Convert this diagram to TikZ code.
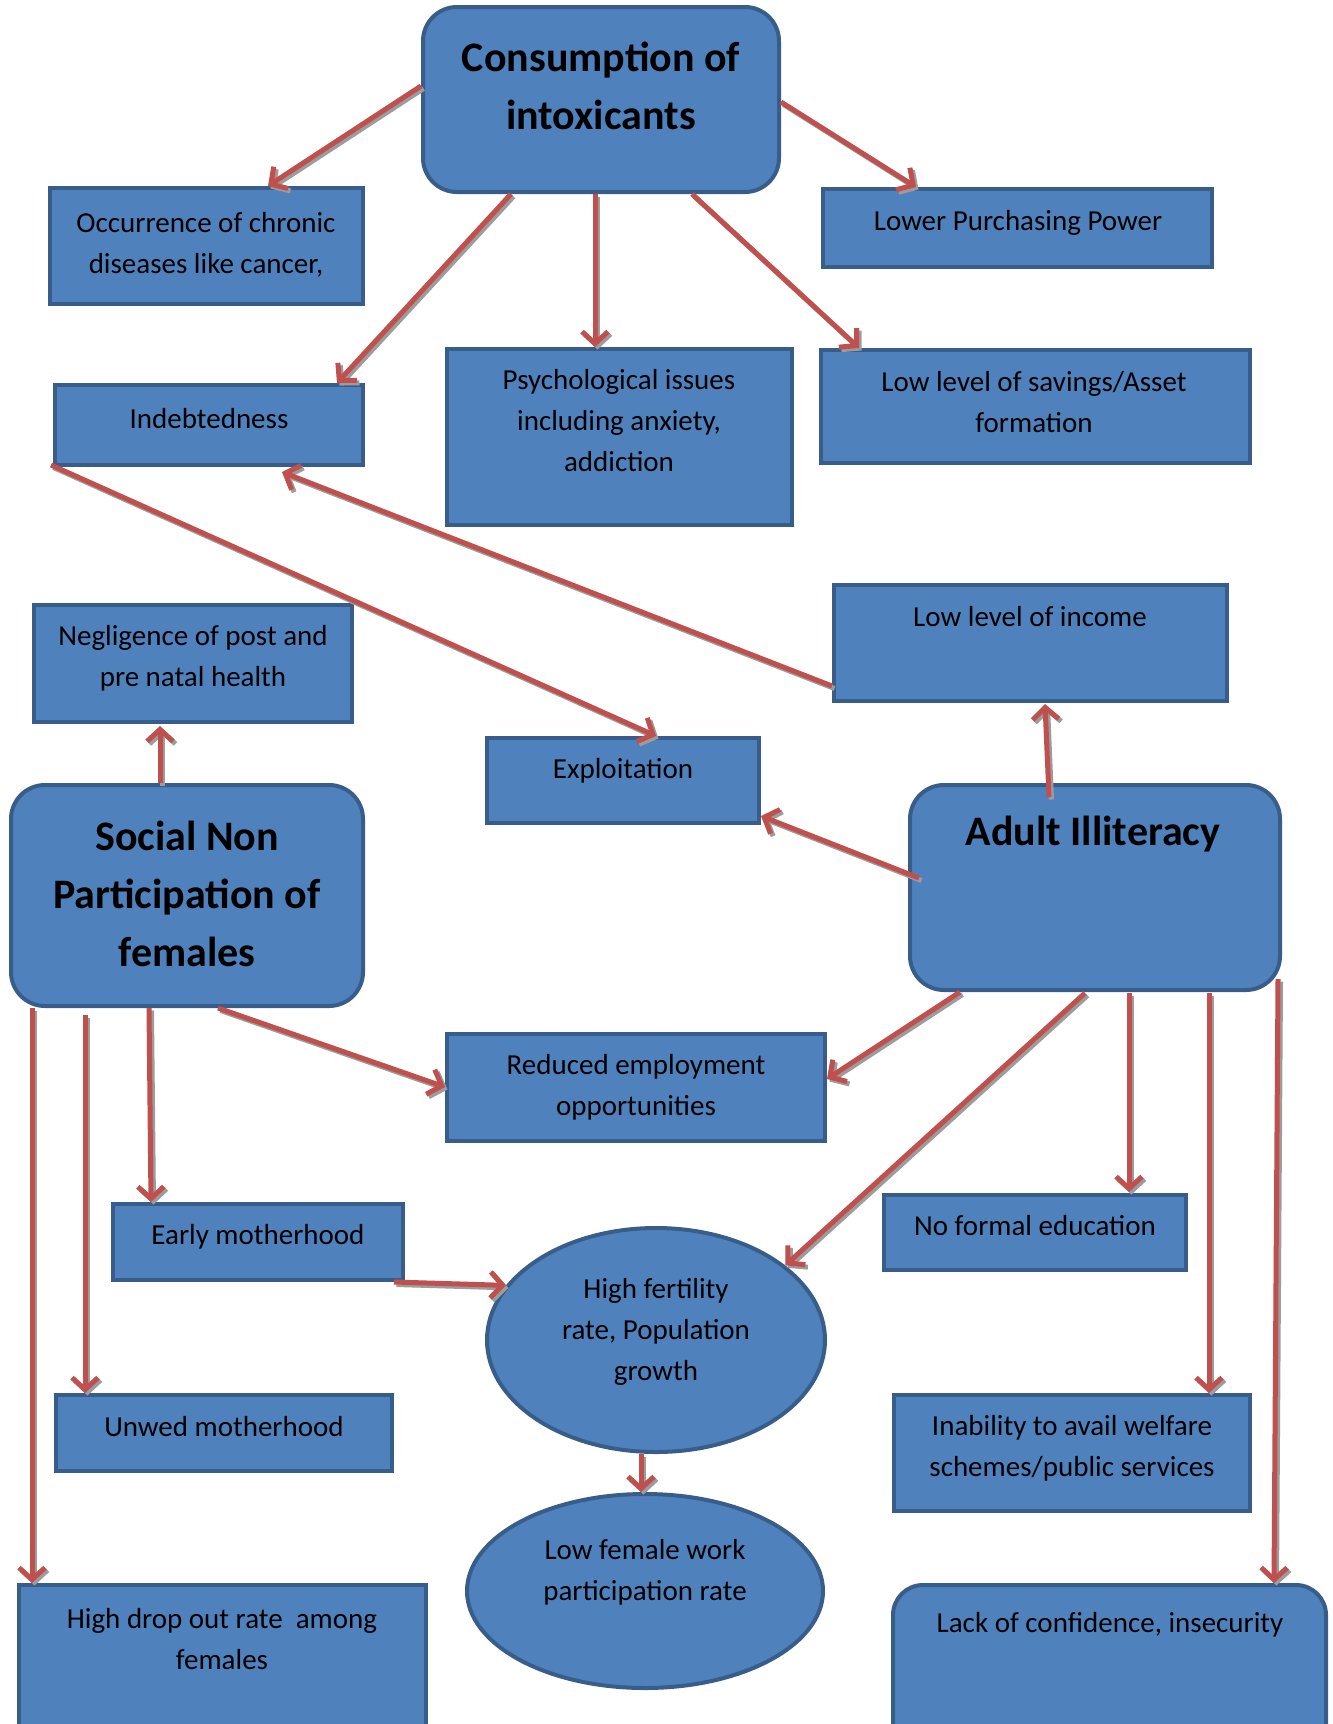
\documentclass[tikz,border=0pt]{standalone}
\usepackage{fontspec}
\setmainfont{Carlito}
\usetikzlibrary{arrows.meta,shapes.geometric,fit,calc}
\definecolor{boxfill}{HTML}{4F81BD}
\definecolor{boxline}{HTML}{385D8A}
\definecolor{arrowred}{HTML}{C0504D}
\definecolor{shadowgray}{HTML}{9C9C9C}
\newcommand{\allconnectors}{%
\draw[conn] ($(cons.north west)+(0,81)$) -- ($(occ.north west)+(220,0)$);
\draw[conn] ($(cons.north east)+(0,97)$) -- ($(lpp.north west)+(95,0)$);
\draw[conn] ($(cons.south west)+(90,0)$) -- ($(ind.north east)+(-28,0)$);
\draw[conn] ($(cons.south west)+(174,0)$) -- ($(psy.north west)+(150,0)$);
\draw[conn] ($(cons.south west)+(271,0)$) -- ($(sav.north west)+(40,0)$);
\draw[conn] ($(inc.south west)+(0,-17)$) -- ($(ind.south west)+(229,5)$);
\draw[conn] ($(ind.south west)+(-2,-2)$) -- ($(exp.north west)+(171,0)$);
\draw[conn] ($(soc.north west)+(151,0)$) -- ($(neg.south west)+(128,2)$);
\draw[conn] ($(adult.north west)+(141,14)$) -- ($(inc.south west)+(213,1)$);
\draw[conn] ($(adult.north west)+(11,95)$) -- ($(exp.south east)+(0,-9)$);
\draw[conn] ($(soc.south west)+(209,0)$) -- ($(red.north west)+(0,55)$);
\draw[conn] ($(adult.south west)+(52,0)$) -- ($(red.north east)+(0,47)$);
\draw[conn] ($(soc.south west)+(140,0)$) -- ($(early.north west)+(40,0)$);
\draw[conn] ($(soc.south west)+(76,7)$) -- ($(unwed.north west)+(31,0)$);
\draw[conn] ($(soc.south west)+(23,0)$) -- ($(drop.north west)+(15,0)$);
\draw[conn] ($(early.south east)+(-11,0)$) -- (fert.160);
\draw[conn] ($(adult.south west)+(177,1)$) -- (fert.30);
\draw[conn] ($(adult.south west)+(221,1)$) -- ($(nofe.north west)+(247,-1)$);
\draw[conn] ($(adult.south west)+(301,1)$) -- ($(inab.north west)+(317,0)$);
\draw[conn] ($(adult.south east)+(-4,-13)$) -- ($(lack.north west)+(383,0)$);
\draw[conn] ($(fert.south)+(-15,0)$) -- ($(lfw.north)+(-4,0)$);
}
\begin{document}
\begin{tikzpicture}[x=1pt,y=-1pt,
 rbox/.style={draw=boxline, fill=boxfill, line width=4pt, inner sep=0pt},
 rrbox/.style={rbox, rounded corners=34pt},
 ebox/.style={ellipse, draw=boxline, fill=boxfill, line width=4pt, inner sep=0pt},
 txt/.style={font=\fontsize{29}{41}\selectfont, align=center, inner sep=0pt},
 ttl/.style={font=\bfseries\fontsize{42}{58}\selectfont, align=center, inner sep=0pt},
 conn/.style={draw=arrowred, line width=5pt, -{Straight Barb[length=12pt,width=26pt]}}]
\useasboundingbox (0,0) rectangle (1333,1724);
\fill[white] (0,0) rectangle (1333,1724);
% boxes
\node[rrbox, fit={(423,7) (779,192)}] (cons) {};
\node[rbox, fit={(50,188) (363,304)}] (occ) {};
\node[rbox, fit={(823,189) (1212,267)}] (lpp) {};
\node[rbox, fit={(55,385) (363,465)}] (ind) {};
\node[rbox, fit={(447,349) (792,525)}] (psy) {};
\node[rbox, fit={(821,350) (1250,463)}] (sav) {};
\node[rbox, fit={(34,605) (352,722)}] (neg) {};
\node[rbox, fit={(834,585) (1227,701)}] (inc) {};
\node[rbox, fit={(487,738) (759,823)}] (exp) {};
\node[rrbox, fit={(11,785) (363,1006)}] (soc) {};
\node[rrbox, fit={(910,785) (1280,990)}] (adult) {};
\node[rbox, fit={(447,1034) (825,1141)}] (red) {};
\node[rbox, fit={(113,1204) (403,1280)}] (early) {};
\node[rbox, fit={(884,1195) (1186,1270)}] (nofe) {};
\node[ebox, minimum width=338pt, minimum height=224pt] (fert) at (656,1340) {};
\node[rbox, fit={(56,1395) (392,1471)}] (unwed) {};
\node[rbox, fit={(894,1395) (1250,1511)}] (inab) {};
\node[ebox, minimum width=356pt, minimum height=194pt] (lfw) at (645,1591) {};
\node[rbox, fit={(19,1585) (426,1760)}] (drop) {};
\node[rrbox, rounded corners=30pt, fit={(893,1585) (1326,1760)}] (lack) {};
% connector shadows, then connectors
\begin{scope}[transform canvas={shift={(2.5pt,-2.5pt)}}, conn/.append style={draw=shadowgray}]
\allconnectors
\end{scope}
\allconnectors
% texts
\node[ttl] (tcons) at (601,86) {Consumption of\\intoxicants};
\node[ttl] (tsoc) at (187,894) {Social Non\\Participation of\\females};
\node[ttl] (tadult) at (1093,834) {Adult Illiteracy};
\node[txt] (tocc) at (206,245) {Occurrence of chronic\\diseases like cancer,};
\node[txt] (tlpp) at (1018,223) {Lower Purchasing Power};
\node[txt] (tind) at (209,419) {Indebtedness};
\node[txt] (tpsy) at (619,421) {Psychological issues\\including anxiety,\\addiction};
\node[txt] (tsav) at (1034,402) {Low level of savings/Asset\\formation};
\node[txt] (tneg) at (193,658) {Negligence of post and\\pre natal health};
\node[txt] (tinc) at (1030,617) {Low level of income};
\node[txt] (texp) at (623,771) {Exploitation};
\node[txt] (tred) at (636,1087) {Reduced employment\\opportunities};
\node[txt] (tearly) at (258,1237) {Early motherhood};
\node[txt] (tnofe) at (1035,1226) {No formal education};
\node[txt] (tfert) at (656,1332) {High fertility\\rate, Population\\growth};
\node[txt] (tunwed) at (224,1427) {Unwed motherhood};
\node[txt] (tinab) at (1072,1448) {Inability to avail welfare\\schemes/public services};
\node[txt] (tlfw) at (645,1572) {Low female work\\participation rate};
\node[txt] (tdrop) at (222,1639) {High drop out rate\ \ among\\females};
\node[txt] (tlack) at (1110,1625) {Lack of confidence, insecurity};
\end{tikzpicture}
\end{document}
